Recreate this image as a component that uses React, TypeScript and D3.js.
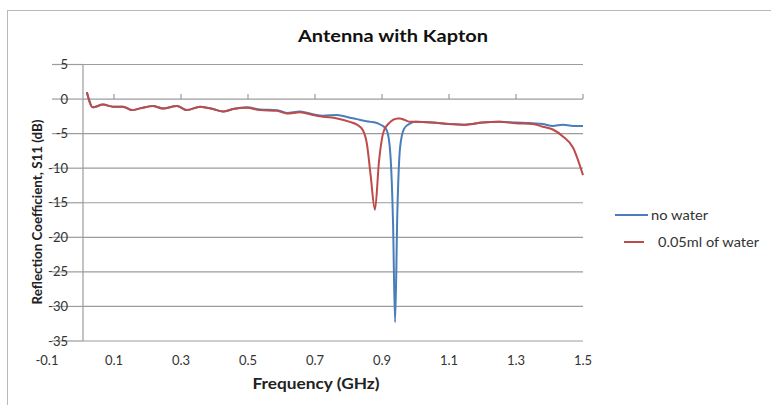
import * as d3 from 'd3'
import { useEffect, useRef } from 'react'

// frequency grid (GHz) shared by both traces
const freq = [0.019, 0.037, 0.067, 0.097, 0.127, 0.154, 0.178, 0.216, 0.246, 0.288, 0.318, 0.357, 0.396, 0.425, 0.455, 0.497, 0.536, 0.587, 0.616, 0.655, 0.694, 0.724, 0.766, 0.804, 0.825, 0.843, 0.855, 0.866, 0.879, 0.891, 0.903, 0.915, 0.925, 0.933, 0.939, 0.946, 0.954, 0.966, 0.985, 1.0, 1.05, 1.1, 1.15, 1.2, 1.25, 1.3, 1.35, 1.38, 1.41, 1.44, 1.47, 1.5]
const noWater = [1.0, -1.2, -0.8, -1.1, -1.1, -1.6, -1.35, -1.0, -1.35, -1.0, -1.6, -1.1, -1.45, -1.8, -1.45, -1.2, -1.5, -1.6, -2.0, -1.8, -2.2, -2.4, -2.3, -2.7, -2.9, -3.1, -3.2, -3.3, -3.4, -3.6, -3.9, -4.6, -8.0, -18.0, -32.3, -16.0, -7.0, -4.3, -3.5, -3.3, -3.4, -3.6, -3.7, -3.4, -3.3, -3.4, -3.5, -3.6, -3.9, -3.7, -3.9, -3.9]
const withWater = [1.0, -1.2, -0.8, -1.1, -1.1, -1.6, -1.35, -1.0, -1.35, -1.0, -1.6, -1.1, -1.45, -1.8, -1.45, -1.25, -1.6, -1.7, -2.1, -1.9, -2.3, -2.55, -2.8, -3.3, -3.7, -4.5, -6.5, -11.0, -16.0, -9.0, -5.0, -3.8, -3.3, -3.0, -2.9, -2.8, -2.8, -3.0, -3.3, -3.3, -3.4, -3.6, -3.7, -3.4, -3.3, -3.5, -3.6, -4.0, -4.4, -5.4, -7.0, -11.0]

const xTicks = [-0.1, 0.1, 0.3, 0.5, 0.7, 0.9, 1.1, 1.3, 1.5]
const yTicks = [5, 0, -5, -10, -15, -20, -25, -30, -35]
const seriesNames = ['no water', '0.05ml of water']
const colors = ['#4a7ebb', '#be4b48']

const W = 771
const H = 405
const FONT = 'Lato, "Liberation Sans", sans-serif'

export default function App() {
  const ref = useRef<SVGSVGElement>(null)

  useEffect(() => {
    const svg = d3.select(ref.current)
    svg.selectAll('*').remove()

    const x = d3.scaleLinear().domain([-0.1, 1.5]).range([47, 583])
    const y = d3.scaleLinear().domain([5, -35]).range([64.5, 341])
    const plotLeft = 83
    const plotRight = 583

    // outer frame
    svg.append('rect').attr('x', 7.5).attr('y', 10.5).attr('width', 820).attr('height', 420)
      .attr('fill', '#fff').attr('stroke', '#b8b8b8')

    // horizontal gridlines + y ticks
    yTicks.forEach(t => {
      svg.append('line').attr('x1', plotLeft).attr('x2', plotRight)
        .attr('y1', y(t)).attr('y2', y(t))
        .attr('stroke', '#9c9c9c').attr('stroke-width', 1.2)
      svg.append('line').attr('x1', 52).attr('x2', plotLeft)
        .attr('y1', y(t)).attr('y2', y(t))
        .attr('stroke', '#9c9c9c').attr('stroke-width', 1.2)
      svg.append('text').attr('x', 68).attr('y', y(t) + 4.5)
        .attr('text-anchor', 'end').attr('font-size', 13).attr('font-family', FONT)
        .attr('fill', '#333').text(String(t))
    })

    // y axis line
    svg.append('line').attr('x1', plotLeft).attr('x2', plotLeft)
      .attr('y1', y(5)).attr('y2', y(-35)).attr('stroke', '#9c9c9c').attr('stroke-width', 1.2)

    // x ticks on the 0 dB line, labels under the plot
    xTicks.forEach(t => {
      if (t > 0) {
        svg.append('line').attr('x1', x(t)).attr('x2', x(t))
          .attr('y1', y(0)).attr('y2', y(0) - 5)
          .attr('stroke', '#9c9c9c').attr('stroke-width', 1.2)
      }
      svg.append('text').attr('x', x(t)).attr('y', 365)
        .attr('text-anchor', 'middle').attr('font-size', 13).attr('font-family', FONT)
        .attr('fill', '#333').text(String(t))
    })

    const line = d3.line<number>()
      .x((d, i) => x(freq[i]))
      .y(d => y(d))
      .curve(d3.curveMonotoneX)

    ;[noWater, withWater].forEach((s, i) => {
      svg.append('path').datum(s).attr('d', line)
        .attr('fill', 'none').attr('stroke', colors[i]).attr('stroke-width', 2)
        .attr('stroke-linejoin', 'round')
    })

    // titles
    svg.append('text').attr('x', 393).attr('y', 42).attr('text-anchor', 'middle')
      .attr('font-size', 17).attr('font-weight', 'bold').attr('font-family', FONT)
      .attr('textLength', 190).attr('lengthAdjust', 'spacingAndGlyphs')
      .attr('fill', '#111').text('Antenna with Kapton')
    svg.append('text').attr('x', 316).attr('y', 389).attr('text-anchor', 'middle')
      .attr('font-size', 15).attr('font-weight', 'bold').attr('font-family', FONT)
      .attr('textLength', 127).attr('lengthAdjust', 'spacingAndGlyphs')
      .attr('fill', '#222').text('Frequency (GHz)')
    svg.append('text').attr('transform', `translate(42,${212}) rotate(-90)`)
      .attr('text-anchor', 'middle')
      .attr('font-size', 13.5).attr('font-weight', 'bold').attr('font-family', FONT)
      .attr('textLength', 185).attr('lengthAdjust', 'spacingAndGlyphs')
      .attr('fill', '#222').text('Reflection Coefficient, S11 (dB)')

    // legend
    const legendRows = [
      { y: 215, x1: 615, x2: 648, tx: 651, len: 57 },
      { y: 242, x1: 624, x2: 644, tx: 658, len: 101 },
    ]
    legendRows.forEach((r, i) => {
      svg.append('line').attr('x1', r.x1).attr('x2', r.x2).attr('y1', r.y).attr('y2', r.y)
        .attr('stroke', colors[i]).attr('stroke-width', 2)
      svg.append('text').attr('x', r.tx).attr('y', r.y + 4.5).attr('font-size', 13.5)
        .attr('textLength', r.len).attr('lengthAdjust', 'spacingAndGlyphs')
        .attr('font-family', FONT).attr('fill', '#333').text(seriesNames[i])
    })
  }, [])

  return (
    <svg ref={ref} width={W} height={H}
      style={{ position: 'absolute', left: 0, top: 0, background: '#fff' }} />
  )
}
